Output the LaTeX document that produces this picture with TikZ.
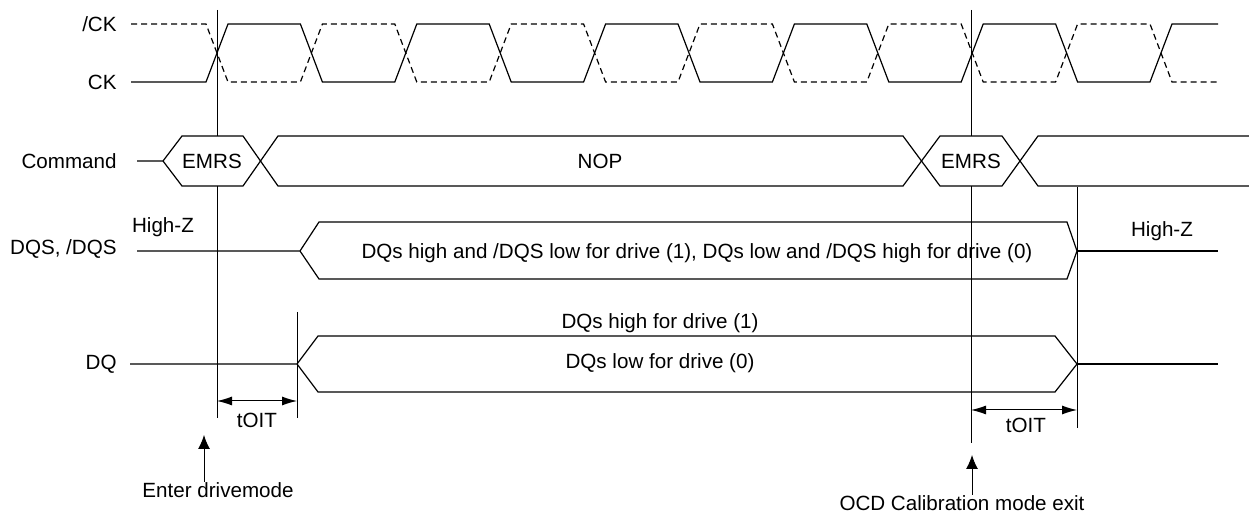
\documentclass[tikz,border=0pt]{standalone}
\usepackage{fontspec}
\setmainfont{Liberation Sans}
\usetikzlibrary{arrows.meta}
\begin{document}
\begin{tikzpicture}[x=0.5pt,y=-0.5pt,
  wire/.style={line width=0.6pt,line join=miter},
  thin/.style={line width=0.5pt},
  ckdash/.style={wire,dash pattern=on 3pt off 2pt},
  lbl/.style={anchor=east,inner sep=0pt,font=\fontsize{10.3}{12}\selectfont},
  txt/.style={inner sep=0pt,font=\fontsize{10.3}{12}\selectfont},
  dim/.style={thin,{Latex[length=7.5pt,width=4.5pt]}-{Latex[length=7.5pt,width=4.5pt]}},
  evarrow/.style={thin,-{Latex[length=7pt,width=6pt]}}]
\useasboundingbox (0,0) rectangle (1249,513);
% labels
\node[lbl] (lck) at (117,24) {/CK};
\node[lbl] (lckb) at (117,82) {CK};
\node[lbl] (lcmd) at (117,161) {Command};
\node[lbl] (ldqs) at (117,249) {DQS, /DQS};
\node[lbl] (ldq) at (117,364) {DQ};
% clocks
\draw[wire] (131,82) foreach \k in {0,...,4}{
  -- ({217+188.8*\k-11},82) -- ({217+188.8*\k+11},24)
  -- ({311.4+188.8*\k-11},24) -- ({311.4+188.8*\k+11},82)}
  -- (1150,82) -- (1172,24) -- (1218,24);
\draw[ckdash] (131,24) foreach \k in {0,...,4}{
  -- ({217+188.8*\k-11},24) -- ({217+188.8*\k+11},82)
  -- ({311.4+188.8*\k-11},82) -- ({311.4+188.8*\k+11},24)}
  -- (1150,24) -- (1172,82) -- (1218,82);
% marker lines
\coordinate (v1t) at (217,10);
\coordinate (v1a) at (217,136);
\coordinate (v1b) at (217,186);
\coordinate (v1e) at (217,418);
\coordinate (v2t) at (971,10);
\coordinate (v2a) at (971,136);
\coordinate (v2b) at (971,186);
\coordinate (v2e) at (971,443);
\coordinate (v3t) at (1077,187);
\coordinate (v3e) at (1077,428);
\coordinate (v4t) at (297,312);
\coordinate (v4e) at (297,418);
\draw[thin] (v1t) -- (v1a) (v1b) -- (v1e);
\draw[thin] (v2t) -- (v2a) (v2b) -- (v2e);
\draw[thin] (v3t) -- (v3e);
\draw[thin] (v4t) -- (v4e);
% command bus
\draw[wire] (137,161) -- (163,161) -- (182,136) -- (243,136) -- (278,186) -- (903,186) -- (940,136) -- (1002,136) -- (1038,186) -- (1249,186);
\draw[wire] (163,161) -- (182,186) -- (243,186) -- (278,136) -- (903,136) -- (940,186) -- (1002,186) -- (1038,136) -- (1249,136);
\node[txt] (emrs1) at (212,161) {EMRS};
\node[txt] (nop) at (600,161) {NOP};
\node[txt] (emrs2) at (971,161) {EMRS};
% DQS bus
\draw[wire] (137,251) -- (300,251) -- (319,222) -- (1067,222) -- (1077,251) -- (1067,279) -- (319,279) -- (300,251);
\draw[wire] (1077,251) -- (1218,251);
\node[txt] (hz1) at (163,227) {High-Z};
\node[txt] (hz2) at (1162,231) {High-Z};
\node[txt] (dqst) at (697,253) {DQs high and /DQS low for drive (1), DQs low and /DQS high for drive (0)};
% DQ bus
\draw[wire] (130,364) -- (297,364) -- (318,336) -- (1055,336) -- (1077,364) -- (1055,392) -- (318,392) -- (297,364);
\draw[wire] (1077,364) -- (1218,364);
\node[txt] (dqh) at (660,323) {DQs high for drive (1)};
\node[txt] (dql) at (660,363) {DQs low for drive (0)};
% tOIT
\coordinate (t1a) at (217,401);
\coordinate (t1b) at (297,401);
\draw[dim] (t1a) -- (t1b);
\node[txt] (toit1) at (257,420) {tOIT};
\coordinate (t2a) at (971,410);
\coordinate (t2b) at (1077,410);
\draw[dim] (t2a) -- (t2b);
\node[txt] (toit2) at (1026,425) {tOIT};
% event arrows
\node[txt,anchor=north] (enter) at (218,482) {Enter drivemode};
\coordinate (e1) at (204,435);
\draw[evarrow] (enter.north -| e1) -- (e1);
\node[txt,anchor=north] (ocd) at (962,495) {OCD Calibration mode exit};
\coordinate (e2) at (972,455);
\draw[evarrow] (ocd.north -| e2) -- (e2);
\end{tikzpicture}
\end{document}
